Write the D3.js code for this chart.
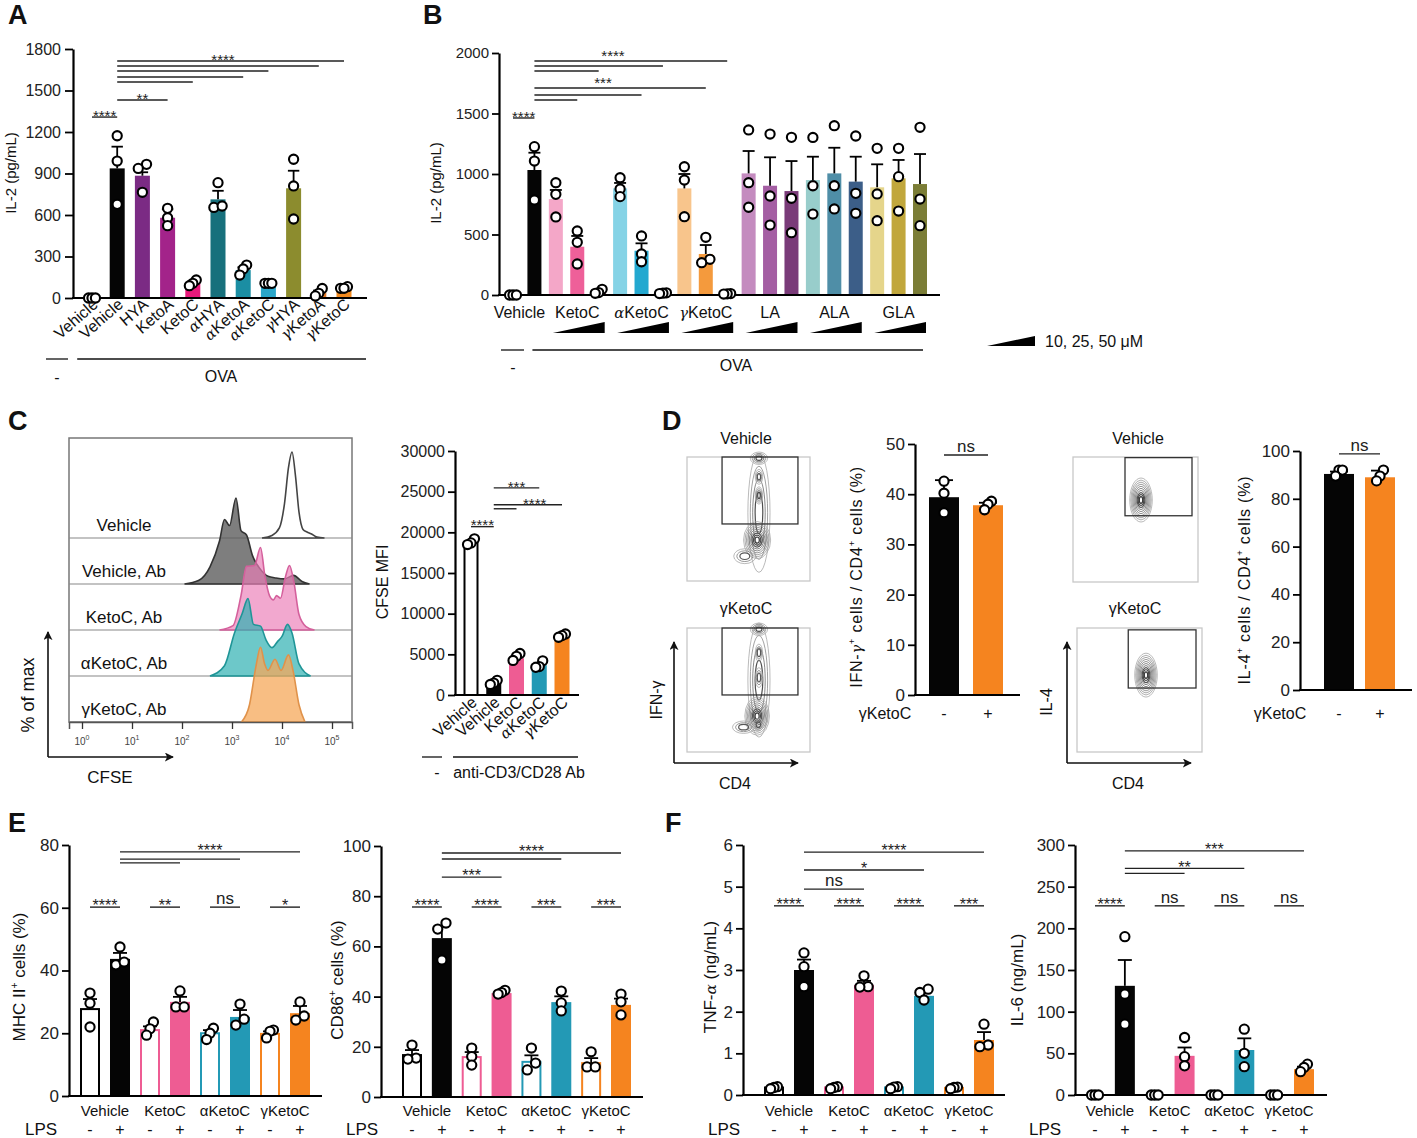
<!DOCTYPE html>
<html>
<head>
<meta charset="utf-8">
<script src="https://cdn.jsdelivr.net/npm/d3@7"></script>
<style>
  body { margin: 0; background: #fff; }
  svg { display: block; }
</style>
</head>
<body>
<svg id="fig" width="1417" height="1138"></svg>
<script>
const FONT = '"Liberation Sans", Arial, sans-serif';
const NARROW = '"Liberation Sans Narrow", "Liberation Sans", Arial, sans-serif';

// ---- Panel A : IL-2, OVA ----
const aLabels = ["Vehicle", "Vehicle", "HYA", "KetoA", "KetoC", "αHYA", "αKetoA", "αKetoC", "γHYA", "γKetoA", "γKetoC"];
const aMeans = [0, 937, 884, 580, 106, 713, 202, 106, 793, 38, 74];
const aSem = [0, 157, 25, 61, 12, 62, 20, 0, 127, 16, 4];
const aPts = [[0, 0, 0], [1173, 990, 677], [966, 937, 764], [648, 580, 523], [130, 106, 89], [834, 655, 665], [238, 210, 166], [106, 106, 106], [1003, 810, 571], [69, 34, 15], [82, 70, 70]];
const aColors = ["#000", "#050505", "#7b2b84", "#a3238a", "#e8197b", "#17707c", "#1b8ea3", "#2aa6c9", "#8c8c2e", "#e57c2a", "#f28a1f"];
const aTicks = [0, 300, 600, 900, 1200, 1500, 1800];
const aSig = [[0, 1, 1308, "****"], [1, 3, 1431, "**"], [1, 4, 1561, ""], [1, 6, 1598, ""], [1, 7, 1641, ""], [1, 9, 1677, ""], [1, 10, 1713, "****", 5.2]];

// ---- Panel B : IL-2 dose series ----
const bMeans = [0, 1033, 793, 399, 27, 881, 366, 15, 881, 339, 10, 1005, 903, 859, 950, 1005, 937, 890, 964, 917];
const bSem = [0, 143, 75, 89, 10, 45, 61, 2, 119, 74, 2, 185, 235, 248, 193, 212, 206, 190, 152, 248];
const bPts = [[0, 0, 0], [1226, 1107, 785], [928, 832, 645], [529, 435, 256], [47, 20, 14], [969, 876, 813], [488, 339, 275], [18, 15, 12],
  [1060, 950, 647], [477, 295, 267], [12, 10, 8], [1364, 928, 725], [1330, 818, 578], [1303, 799, 515], [1302, 903, 669], [1399, 903, 711],
  [1314, 840, 675], [1212, 835, 614], [1212, 978, 694], [1386, 793, 573]];
const bColors = ["#000", "#050505", "#f4a7c8", "#ee6099", "#e0307f", "#85d3e6", "#23a8d0", "#1787ad", "#f8c58c", "#f49a3d", "#e47d1c",
  "#c48bbf", "#a45ea3", "#7a3b79", "#98cdcb", "#4f8ea7", "#3c5e88", "#e5d58b", "#c1a73c", "#7b7d36"];
const bTicks = [0, 500, 1000, 1500, 2000];
const bGroups = [["Vehicle", 0.3], ["KetoC", 3], ["αKetoC", 6], ["γKetoC", 9], ["LA", 12], ["ALA", 15], ["GLA", 18]];
const bWedges = [2, 5, 8, 11, 14, 17];
const bSig = [[0, 1, 1463, "****"], [1, 10, 1934, "", null], [1, 7, 1893, ""], [1, 4, 1851, ""], [1, 9, 1711, ""], [1, 6, 1653, ""], [1, 3, 1611, ""]];
const bSigLabels = [["****", 4.67, 1975], ["***", 4.2, 1755]];

// ---- Panel C : CFSE ----
const hNames = ["Vehicle", "Vehicle, Ab", "KetoC, Ab", "αKetoC, Ab", "γKetoC, Ab"];
const hVeh = [[3.6, 0], [3.8, 0.03], [3.95, 0.12], [4.05, 0.4], [4.13, 0.82], [4.2, 1.0], [4.27, 0.72], [4.34, 0.3], [4.42, 0.1], [4.5, 0.07], [4.58, 0.05], [4.7, 0.01], [4.85, 0]];
const hVehAb = [[2.05, 0], [2.33, 0.04], [2.56, 0.2], [2.75, 0.5], [2.85, 0.75], [2.95, 0.68], [3.08, 1.0], [3.18, 0.62], [3.29, 0.57], [3.41, 0.33], [3.57, 0.17], [3.72, 0.09], [3.88, 0.07], [4.05, 0.06], [4.23, 0.1], [4.4, 0.03], [4.55, 0]];
const hKeto = [[2.75, 0], [3.02, 0.05], [3.18, 0.4], [3.29, 0.74], [3.45, 0.75], [3.57, 0.96], [3.66, 0.62], [3.75, 0.4], [3.83, 0.35], [3.89, 0.4], [3.97, 0.37], [4.07, 0.62], [4.15, 0.75], [4.24, 0.55], [4.34, 0.18], [4.48, 0.04], [4.65, 0]];
const hAketo = [[2.56, 0], [2.85, 0.12], [3.05, 0.5], [3.2, 0.72], [3.32, 0.9], [3.43, 0.6], [3.57, 0.58], [3.68, 0.42], [3.8, 0.33], [3.91, 0.4], [4.0, 0.46], [4.11, 0.6], [4.2, 0.5], [4.34, 0.14], [4.57, 0]];
const hGketo = [[3.19, 0], [3.35, 0.2], [3.48, 0.65], [3.57, 0.87], [3.65, 0.68], [3.72, 0.6], [3.86, 0.73], [3.98, 0.6], [4.13, 0.78], [4.22, 0.6], [4.34, 0.2], [4.46, 0]];
const cLabels = ["Vehicle", "Vehicle", "KetoC", "αKetoC", "γKetoC"];
const cMeans = [18735, 1470, 4530, 3670, 7100];
const cSem = [200, 170, 250, 300, 120];
const cPts = [[19200, 18700, 18500], [1800, 1470, 1300], [5100, 4750, 4250], [4200, 3500, 3400], [7500, 7300, 7100]];
const cColors = ["#000", "#050505", "#ee5c93", "#2399b5", "#f5841f"];
const cTicks = [0, 5000, 10000, 15000, 20000, 25000, 30000];
const cSig = [[0, 1, 20700, "****"], [1, 3, 25470, "***"], [1, 4, 23388, "****", 2.8], [1, 2, 22898, ""]];

// ---- Panel D : intracellular cytokines (contour blobs: cx, cy, rx, ry, levels) ----
const dIfnVeh = [[58.5, 55, 9, 48, 4], [57, 33, 11, 15, 9], [58.5, 99, 7, 5, 4], [58.5, 69, 3, 7, 4], [58.5, 84, 3, 6, 3], [47, 20, 9, 6, 3]];
const dIfnKeto = [[58.5, 58, 9, 46, 4], [57, 29, 10, 15.5, 9], [58, 22, 4, 5, 3], [58.5, 99, 7, 5, 4], [58.5, 60, 3, 8, 3], [58.5, 80, 3, 7, 3], [46, 20, 9, 5, 3]];
const dIl4Veh = [[54.4, 65.6, 9, 17.6, 10]];
const dIl4Keto = [[55.2, 62, 9, 17.7, 10]];
const dIfnGate = [28.5, 90.2, 46, 100];
const dIl4GateVeh = [41.6, 95.2, 53, 99.5];
const dIl4GateKeto = [41, 95.2, 51.6, 98.5];
const dIfnMeans = [39.4, 37.8], dIfnSem = [3.4, 0.5], dIfnPts = [[42.6, 40.2, 36.3], [38.6, 38, 36.9]];
const dIl4Means = [90.4, 89], dIl4Sem = [1, 2.8], dIl4Pts = [[92, 92, 89.5], [92, 89.5, 87.5]];
const dColors = ["#050505", "#f5841f"];
const dSign = ["-", "+"];

// ---- Panels E, F : LPS ----
const efGroups = ["Vehicle", "KetoC", "αKetoC", "γKetoC"];
const efColors = ["#000", "#050505", "#ee5c93", "#ee5c93", "#2399b5", "#2399b5", "#f5841f", "#f5841f"];
const efOutline = [1, 0, 1, 0, 1, 0, 1, 0];
const lpsSign = ["-", "+", "-", "+", "-", "+", "-", "+"];
const eMhcMeans = [27.7, 43.7, 21, 30, 20, 25.2, 19.8, 26.4];
const eMhcSem = [3.2, 1.9, 1.2, 1.6, 1, 2.2, 0.8, 2.3];
const eMhcPts = [[32.8, 29.6, 22], [47.5, 41.8, 42.7], [23.6, 21.4, 19.4], [33.5, 28.4, 28.4], [21.6, 20, 18], [29.3, 24.5, 22.6], [21, 20.6, 18.5], [30, 25.5, 24.2]];
const eMhcSig = [[0, 1, 60.2, "****"], [2, 3, 60.2, "**"], [4, 5, 60.2, "ns"], [6, 7, 60.2, "*"], [1, 7, 77.8, "****"], [1, 5, 75.5, ""], [1, 3, 74.3, ""]];
const eCdMeans = [16.7, 63.3, 15.9, 41.4, 14, 37.8, 13.5, 36.7];
const eCdSem = [2, 4.4, 2, 0.5, 2.6, 2.3, 2, 2.5];
const eCdPts = [[20.7, 15.5, 15.1], [69.3, 66.9, 54.6], [19.5, 16.1, 12.7], [42.5, 41.6, 41], [19.5, 13.5, 10.8], [42.2, 37.5, 34.3], [18, 12, 12], [41, 37.9, 32.7]];
const eCdSig = [[0, 1, 75.7, "****"], [2, 3, 75.7, "****"], [4, 5, 75.7, "***"], [6, 7, 75.7, "***"], [1, 7, 97.2, "****"], [1, 5, 94.8, ""], [1, 3, 87.6, "***"]];
const fTnfMeans = [0.18, 3.0, 0.18, 2.64, 0.18, 2.38, 0.17, 1.32];
const fTnfSem = [0.02, 0.25, 0.02, 0.1, 0.02, 0.08, 0.02, 0.19];
const fTnfPts = [[0.2, 0.18, 0.15], [3.41, 3.08, 2.6], [0.2, 0.18, 0.15], [2.86, 2.6, 2.59], [0.2, 0.19, 0.15], [2.54, 2.46, 2.28], [0.19, 0.18, 0.15], [1.7, 1.2, 1.16]];
const fTnfSig = [[0, 1, 4.54, "****"], [2, 3, 4.54, "****"], [4, 5, 4.54, "****"], [6, 7, 4.54, "***"], [1, 7, 5.83, "****"], [1, 5, 5.4, "*"], [1, 3, 4.94, "ns"]];
const fIl6Means = [0, 131, 0, 47, 0, 54, 0, 31];
const fIl6Sem = [0, 31, 0, 10, 0, 14, 0, 3];
const fIl6Pts = [[0, 0, 0], [190, 121, 85], [0, 0, 0], [69, 46, 35], [0, 0, 0], [79, 50, 34], [0, 0, 0], [37, 33, 28]];
const fIl6Sig = [[0, 1, 227, "****"], [2, 3, 227, "ns"], [4, 5, 227, "ns"], [6, 7, 227, "ns"], [1, 7, 293, "***"], [1, 5, 272, "**"], [1, 3, 266, ""]];

const svg = d3.select('#fig').attr('font-family', FONT);

svg.append('defs').append('marker')
  .attr('id', 'arr').attr('viewBox', '0 0 10 10').attr('refX', 9).attr('refY', 5)
  .attr('markerWidth', 9).attr('markerHeight', 9).attr('markerUnits', 'userSpaceOnUse').attr('orient', 'auto')
  .append('path').attr('d', 'M0,0 L10,5 L0,10 L2.5,5 z').attr('fill', '#111');

// -- utility functions

// spread overlapping replicate dots sideways
function spread(vals, y, r) {
  const idx = d3.range(vals.length).sort((a, b) => vals[a] - vals[b]);
  const offs = vals.map(() => 0);
  const clusters = [];
  let cur = [idx[0]];
  for (let k = 1; k < idx.length; k++) {
    if (Math.abs(y(vals[idx[k]]) - y(vals[cur[cur.length - 1]])) < r * 1.6) cur.push(idx[k]);
    else { clusters.push(cur); cur = [idx[k]]; }
  }
  clusters.push(cur);
  clusters.forEach(c => {
    const step = c.length > 2 ? r * 0.75 : r * 1.8;
    c.forEach((id, j) => { offs[id] = (j - (c.length - 1) / 2) * step; });
  });
  return offs;
}

function addLabel(sel, text, italicGreek) {
  const m = /^([αγ])(.*)$/.exec(text);
  if (m && italicGreek) {
    sel.append('tspan').attr('font-family', '"DejaVu Serif", serif').attr('font-style', 'italic').attr('font-size', '0.92em').text(m[1]);
    sel.append('tspan').text(m[2]);
  } else sel.text(text);
}

function txt(x, y, s, fs, opt = {}) {
  const t = svg.append('text').attr('x', x).attr('y', y).attr('font-size', fs)
    .attr('text-anchor', opt.anchor || 'middle').attr('fill', opt.fill || '#111');
  if (opt.font) t.attr('font-family', opt.font);
  if (opt.weight) t.attr('font-weight', opt.weight);
  addLabel(t, s, opt.italic);
  return t;
}

// rotated axis title; parts = [text, 'sup' | 'gk' | null]
function yTitle(x, y, parts, fs, font) {
  const t = svg.append('text').attr('transform', `translate(${x},${y}) rotate(-90)`)
    .attr('text-anchor', 'middle').attr('font-size', fs).attr('fill', '#111');
  if (font) t.attr('font-family', font);
  let shifted = false;
  parts.forEach(([s, k]) => {
    const ts = t.append('tspan').text(s);
    if (k === 'sup') { ts.attr('font-size', fs * 0.6).attr('dy', -fs * 0.42); shifted = true; }
    else {
      if (shifted) { ts.attr('dy', fs * 0.42); shifted = false; }
      if (k === 'gk') ts.attr('font-family', '"DejaVu Serif", serif').attr('font-style', 'italic').attr('font-size', fs * 0.9);
    }
  });
  return t;
}

function barPanel(cfg) {
  const font = cfg.font || FONT;
  const g = svg.append('g').attr('font-family', font);
  const n = cfg.means.length;
  const x = d3.scalePoint().domain(d3.range(n)).range(cfg.xr);
  const y = d3.scaleLinear().domain(cfg.yd).range(cfg.yr);
  const bw = cfg.bw, out = cfg.outline || [];
  const xf = k => cfg.xr[0] + k * x.step();

  g.append('g').selectAll('rect').data(cfg.means).join('rect')
    .attr('x', (d, i) => x(i) - bw / 2 + (out[i] ? 1 : 0))
    .attr('y', d => y(d))
    .attr('width', (d, i) => out[i] ? bw - 2 : bw)
    .attr('height', d => Math.max(0, y(0) - y(d)))
    .attr('fill', (d, i) => out[i] ? '#fff' : cfg.colors[i])
    .attr('stroke', (d, i) => out[i] ? cfg.colors[i] : 'none')
    .attr('stroke-width', 2);

  const ya = g.append('g').attr('transform', `translate(${cfg.ax},0)`)
    .call(d3.axisLeft(y).tickValues(cfg.ticks).tickFormat(d3.format('d'))
      .tickSize(cfg.tick || 7).tickSizeOuter(0).tickPadding(cfg.pad || 3));
  ya.attr('font-family', font);
  ya.select('.domain').attr('stroke-width', 2.2);
  ya.selectAll('.tick line').attr('stroke-width', 1.8);
  ya.selectAll('.tick text').attr('font-size', cfg.fs).attr('fill', '#222');
  g.append('line').attr('x1', cfg.ax - 1).attr('x2', cfg.xEnd)
    .attr('y1', y(0)).attr('y2', y(0)).attr('stroke', '#000').attr('stroke-width', 2.2);

  const eb = g.append('g').attr('stroke', '#000').attr('stroke-width', 1.8);
  cfg.means.forEach((m, i) => {
    const s = cfg.sem[i];
    if (!s) return;
    const cw = cfg.cap || bw * 0.38;
    eb.append('line').attr('x1', x(i)).attr('x2', x(i)).attr('y1', y(m)).attr('y2', y(m + s));
    eb.append('line').attr('x1', x(i) - cw).attr('x2', x(i) + cw).attr('y1', y(m + s)).attr('y2', y(m + s));
  });

  const r = cfg.r || 4.6;
  const pg = g.append('g');
  cfg.pts.forEach((p, i) => {
    const off = spread(p, y, r);
    pg.selectAll(null).data(p).enter().append('circle')
      .attr('cx', (d, k) => x(i) + off[k]).attr('cy', d => y(d)).attr('r', r)
      .attr('fill', '#fff').attr('stroke', '#000').attr('stroke-width', 2.1);
  });

  const sfs = cfg.sigFs || 16;
  (cfg.sig || []).forEach(([i, j, v, lab, at]) => {
    const yy = y(v);
    g.append('line').attr('x1', x(i)).attr('x2', x(j)).attr('y1', yy).attr('y2', yy)
      .attr('stroke', '#222').attr('stroke-width', 1.4);
    if (lab) {
      const cx = at == null ? (x(i) + x(j)) / 2 : xf(at);
      const star = lab[0] === '*';
      g.append('text').attr('x', cx).attr('y', star ? yy + sfs * 0.42 - 2.5 : yy - 3)
        .attr('text-anchor', 'middle').attr('font-size', star ? sfs : sfs + 1).attr('fill', '#222')
        .text(lab);
    }
  });
  return { x, y, g, xf };
}

// contour plot made of nested ellipses around each density blob
function contourPlot(box, blobs, gate) {
  const x = d3.scaleLinear().domain([0, 100]).range([box[0], box[1]]);
  const y = d3.scaleLinear().domain([0, 100]).range([box[3], box[2]]);
  const g = svg.append('g');
  g.append('rect').attr('x', box[0]).attr('y', box[2]).attr('width', box[1] - box[0]).attr('height', box[3] - box[2])
    .attr('fill', '#fff').attr('stroke', '#c8c8c8').attr('stroke-width', 1.3);
  const cl = g.append('g').attr('fill', 'none');
  blobs.forEach(([cx, cy, rx, ry, lv]) => {
    d3.range(lv).forEach(k => {
      const s = 1 - k / (lv + 0.6);
      cl.append('ellipse').attr('cx', x(cx)).attr('cy', y(cy))
        .attr('rx', (x(rx) - x(0)) * s).attr('ry', (y(0) - y(ry)) * s)
        .attr('stroke', d3.interpolateRgb('#a8a8a8', '#2e2e2e')(k / lv)).attr('stroke-width', k > lv * 0.6 ? 1.2 : 0.8);
    });
  });
  g.append('rect').attr('x', x(gate[0])).attr('y', y(gate[3])).attr('width', x(gate[1]) - x(gate[0]))
    .attr('height', y(gate[2]) - y(gate[3])).attr('fill', 'none').attr('stroke', '#333').attr('stroke-width', 1.3);
}

function arrowAxes(x0, y0, xTop, xRight) {
  svg.append('line').attr('x1', x0).attr('y1', y0).attr('x2', x0).attr('y2', xTop)
    .attr('stroke', '#111').attr('stroke-width', 1.6).attr('marker-end', 'url(#arr)');
  svg.append('line').attr('x1', x0).attr('y1', y0).attr('x2', xRight).attr('y2', y0)
    .attr('stroke', '#111').attr('stroke-width', 1.6).attr('marker-end', 'url(#arr)');
}

function hline(x1, x2, y) {
  svg.append('line').attr('x1', x1).attr('x2', x2).attr('y1', y).attr('y2', y).attr('stroke', '#111').attr('stroke-width', 1.3);
}

// ---------------- Panel letters ----------------
[["A", 8, 24], ["B", 423, 24], ["C", 8, 430], ["D", 662, 430], ["E", 8, 832], ["F", 665, 832]]
  .forEach(([s, x, y]) => txt(x, y, s, 27, { anchor: 'start', weight: 'bold' }));

// ---------------- A ----------------
const A = barPanel({ means: aMeans, sem: aSem, pts: aPts, colors: aColors, xr: [92, 344], yd: [0, 1800], yr: [298, 49],
  ax: 73, xEnd: 367, ticks: aTicks, fs: 16, bw: 15, sig: aSig, sigFs: 15, tick: 8, pad: 4 });
aLabels.forEach((s, i) => {
  const t = svg.append('text').attr('transform', `translate(${A.x(i) + 7},${306}) rotate(-41)`)
    .attr('text-anchor', 'end').attr('font-size', 16).attr('fill', '#111');
  addLabel(t, s, true);
});
hline(A.x(0) - 46, A.x(0) - 24, 359);
hline(A.x(1) - 40, A.x(10) + 22, 359);
txt(A.x(0) - 35, 383, "-", 16);
txt(221, 382, "OVA", 16);
yTitle(16, 173, [["IL-2 (pg/mL)"]], 15);

// ---------------- B ----------------
const B = barPanel({ means: bMeans, sem: bSem, pts: bPts, colors: bColors, xr: [513, 920], yd: [0, 2000], yr: [295, 53],
  ax: 499, xEnd: 940, ticks: bTicks, fs: 15, bw: 14, sig: bSig, sigFs: 15, cap: 6 });
bSigLabels.forEach(([s, at, v]) => {
  svg.append('text').attr('x', B.xf(at)).attr('y', B.y(v) + 5).attr('text-anchor', 'middle')
    .attr('font-size', 15).attr('fill', '#222').text(s);
});
bGroups.forEach(([s, at]) => txt(B.xf(at), 318, s, 16, { italic: true }));
bWedges.forEach(s => {
  const x1 = B.xf(s) - 3, x2 = B.xf(s + 2) + 6;
  svg.append('path').attr('d', `M${x1},333 L${x2},333 L${x2},322 Z`).attr('fill', '#000');
});
hline(B.x(0) - 12, B.x(0) + 11, 350);
hline(B.x(1) - 2, B.x(19) + 3, 350);
txt(B.x(0), 373, "-", 16);
txt(736, 371, "OVA", 16);
yTitle(441, 183, [["IL-2 (pg/mL)"]], 15);
svg.append('path').attr('d', 'M987,346 L1035,346 L1035,336 Z').attr('fill', '#000');
txt(1045, 347, "10, 25, 50 μM", 16, { anchor: 'start' });

// ---------------- C histograms ----------------
const hData = [hVeh, hVehAb, hKeto, hAketo, hGketo];
const hStyle = [["#fff", "#444", 1], ["#5a5a5a", "#333", 0.78], ["#ec7fb8", "#d4609c", 0.68], ["#2fb0b2", "#1f9597", 0.7], ["#f6a85a", "#e0924a", 0.75]];
const xl = d3.scaleLog().domain([Math.pow(10, -0.26), Math.pow(10, 5.4)]).range([69, 352]);
const rowY = d3.scalePoint().domain(d3.range(5)).range([538, 722]);
const hH = 86;
svg.append('rect').attr('x', 69).attr('y', 438).attr('width', 283).attr('height', 284)
  .attr('fill', '#fff').attr('stroke', '#777').attr('stroke-width', 1.5);
const hg = svg.append('g');
hData.forEach((d, k) => {
  const base = rowY(k);
  hg.append('line').attr('x1', 69).attr('x2', 352).attr('y1', base).attr('y2', base).attr('stroke', '#888').attr('stroke-width', 1.1);
  const area = d3.area().x(p => xl(Math.pow(10, p[0]))).y0(base).y1(p => base - hH * p[1]).curve(d3.curveMonotoneX);
  hg.append('path').attr('d', area(d)).attr('fill', hStyle[k][0]).attr('fill-opacity', hStyle[k][2])
    .attr('stroke', hStyle[k][1]).attr('stroke-width', 1.6);
  txt(124, base - 7, hNames[k], 17);
});
const minor = [];
d3.range(0, 5).forEach(e => d3.range(2, 10).forEach(m => minor.push(m * Math.pow(10, e))));
const xa = svg.append('g').attr('transform', 'translate(0,722)');
xa.call(d3.axisBottom(xl).tickValues(minor).tickSize(4).tickFormat(''));
xa.call(d3.axisBottom(xl).tickValues([1, 10, 100, 1e3, 1e4, 1e5]).tickSize(7).tickFormat(''));
xa.selectAll('.domain').attr('stroke', '#555').attr('stroke-width', 1.5);
xa.selectAll('.tick line').attr('stroke', '#333').attr('stroke-width', 1.3);
d3.range(0, 6).forEach(e => {
  const t = svg.append('text').attr('x', xl(Math.pow(10, e))).attr('y', 745).attr('text-anchor', 'middle')
    .attr('font-size', 10).attr('fill', '#444');
  t.append('tspan').text('10');
  t.append('tspan').attr('dy', -5).attr('font-size', 7).text(e);
});
arrowAxes(48, 757, 632, 173);
yTitle(34, 695, [["% of max"]], 18);
txt(110, 783, "CFSE", 17);

// ---------------- C bars ----------------
const C = barPanel({ means: cMeans, sem: cSem, pts: cPts, colors: cColors, outline: [1, 0, 0, 0, 0], xr: [471, 562], yd: [0, 30000], yr: [695, 451],
  ax: 455, xEnd: 579, ticks: cTicks, fs: 16, bw: 15, sig: cSig, sigFs: 15 });
cLabels.forEach((s, i) => {
  const t = svg.append('text').attr('transform', `translate(${C.x(i) + 7},${704}) rotate(-41)`)
    .attr('text-anchor', 'end').attr('font-size', 16).attr('fill', '#111');
  addLabel(t, s, true);
});
hline(422, 442, 757);
hline(453, 578, 757);
txt(437, 778, "-", 16);
txt(519, 778, "anti-CD3/CD28 Ab", 16);
yTitle(388, 582, [["CFSE MFI"]], 16);

// ---------------- D ----------------
contourPlot([687, 810, 457, 581], dIfnVeh, dIfnGate);
contourPlot([687, 810, 628, 752], dIfnKeto, dIfnGate);
contourPlot([1073, 1198, 457, 582], dIl4Veh, dIl4GateVeh);
contourPlot([1077, 1202, 628, 752], dIl4Keto, dIl4GateKeto);
txt(746, 444, "Vehicle", 16, { font: NARROW });
txt(746, 614, "γKetoC", 16, { font: NARROW });
txt(1138, 444, "Vehicle", 16, { font: NARROW });
txt(1135, 614, "γKetoC", 16, { font: NARROW });
arrowAxes(674, 763, 642, 798);
arrowAxes(1067, 763, 642, 1191);
yTitle(662, 700, [["IFN-γ"]], 16, NARROW);
yTitle(1052, 702, [["IL-4"]], 16, NARROW);
txt(735, 789, "CD4", 16, { font: NARROW });
txt(1128, 789, "CD4", 16, { font: NARROW });

const D1 = barPanel({ means: dIfnMeans, sem: dIfnSem, pts: dIfnPts, colors: dColors, xr: [944, 988], yd: [0, 50], yr: [695, 444],
  ax: 915, xEnd: 1020, ticks: [0, 10, 20, 30, 40, 50], fs: 17, bw: 30, sig: [[0, 1, 47.8, "ns"]], sigFs: 16, font: NARROW, cap: 9 });
const D2 = barPanel({ means: dIl4Means, sem: dIl4Sem, pts: dIl4Pts, colors: dColors, xr: [1339, 1380], yd: [0, 100], yr: [690, 451],
  ax: 1300, xEnd: 1412, ticks: [0, 20, 40, 60, 80, 100], fs: 17, bw: 30, sig: [[0, 1, 98.8, "ns"]], sigFs: 16, font: NARROW, cap: 9 });
txt(885, 719, "γKetoC", 16, { font: NARROW });
txt(1280, 719, "γKetoC", 16, { font: NARROW });
dSign.forEach((s, i) => { txt(D1.x(i), 719, s, 16, { font: NARROW }); txt(D2.x(i), 719, s, 16, { font: NARROW }); });
yTitle(862, 577, [["IFN-"], ["γ", "gk"], ["+", "sup"], ["  cells / CD4"], ["+", "sup"], [" cells (%)"]], 16, NARROW)
  .attr('letter-spacing', 0.8);
yTitle(1250, 580, [["IL-4"], ["+", "sup"], [" cells / CD4"], ["+", "sup"], [" cells (%)"]], 16, NARROW)
  .attr('letter-spacing', 0.8);

// ---------------- E, F ----------------
function lpsPanel(cfg, lpsX) {
  const P = barPanel(Object.assign({ colors: efColors, outline: efOutline, bw: 20, fs: 17, font: NARROW, sigFs: 16, cap: 7 }, cfg));
  efGroups.forEach((s, k) => txt((P.x(2 * k) + P.x(2 * k + 1)) / 2, 1116, s, 15, { font: NARROW }));
  lpsSign.forEach((s, i) => txt(P.x(i), 1135, s, 16, { font: NARROW }));
  txt(lpsX, 1135, "LPS", 17, { font: NARROW });
  return P;
}
lpsPanel({ means: eMhcMeans, sem: eMhcSem, pts: eMhcPts, xr: [90, 300], yd: [0, 80], yr: [1096, 845], ax: 69, xEnd: 322,
  ticks: [0, 20, 40, 60, 80], sig: eMhcSig }, 41);
lpsPanel({ means: eCdMeans, sem: eCdSem, pts: eCdPts, xr: [412, 621], yd: [0, 100], yr: [1097, 846], ax: 381, xEnd: 643,
  ticks: [0, 20, 40, 60, 80, 100], sig: eCdSig }, 362);
lpsPanel({ means: fTnfMeans, sem: fTnfSem, pts: fTnfPts, xr: [774, 984], yd: [0, 6], yr: [1095, 845], ax: 743, xEnd: 1005,
  ticks: [0, 1, 2, 3, 4, 5, 6], sig: fTnfSig }, 724);
lpsPanel({ means: fIl6Means, sem: fIl6Sem, pts: fIl6Pts, xr: [1095, 1304], yd: [0, 300], yr: [1095, 845], ax: 1075, xEnd: 1327,
  ticks: [0, 50, 100, 150, 200, 250, 300], sig: fIl6Sig }, 1045);
yTitle(25, 977, [["MHC II"], ["+", "sup"], [" cells (%)"]], 17, NARROW);
yTitle(343, 980, [["CD86"], ["+", "sup"], [" cells (%)"]], 17, NARROW);
yTitle(716, 977, [["TNF-"], ["α", "gk"], [" (ng/mL)"]], 17, NARROW);
yTitle(1023, 980, [["IL-6 (ng/mL)"]], 17, NARROW);
</script>
</body>
</html>
